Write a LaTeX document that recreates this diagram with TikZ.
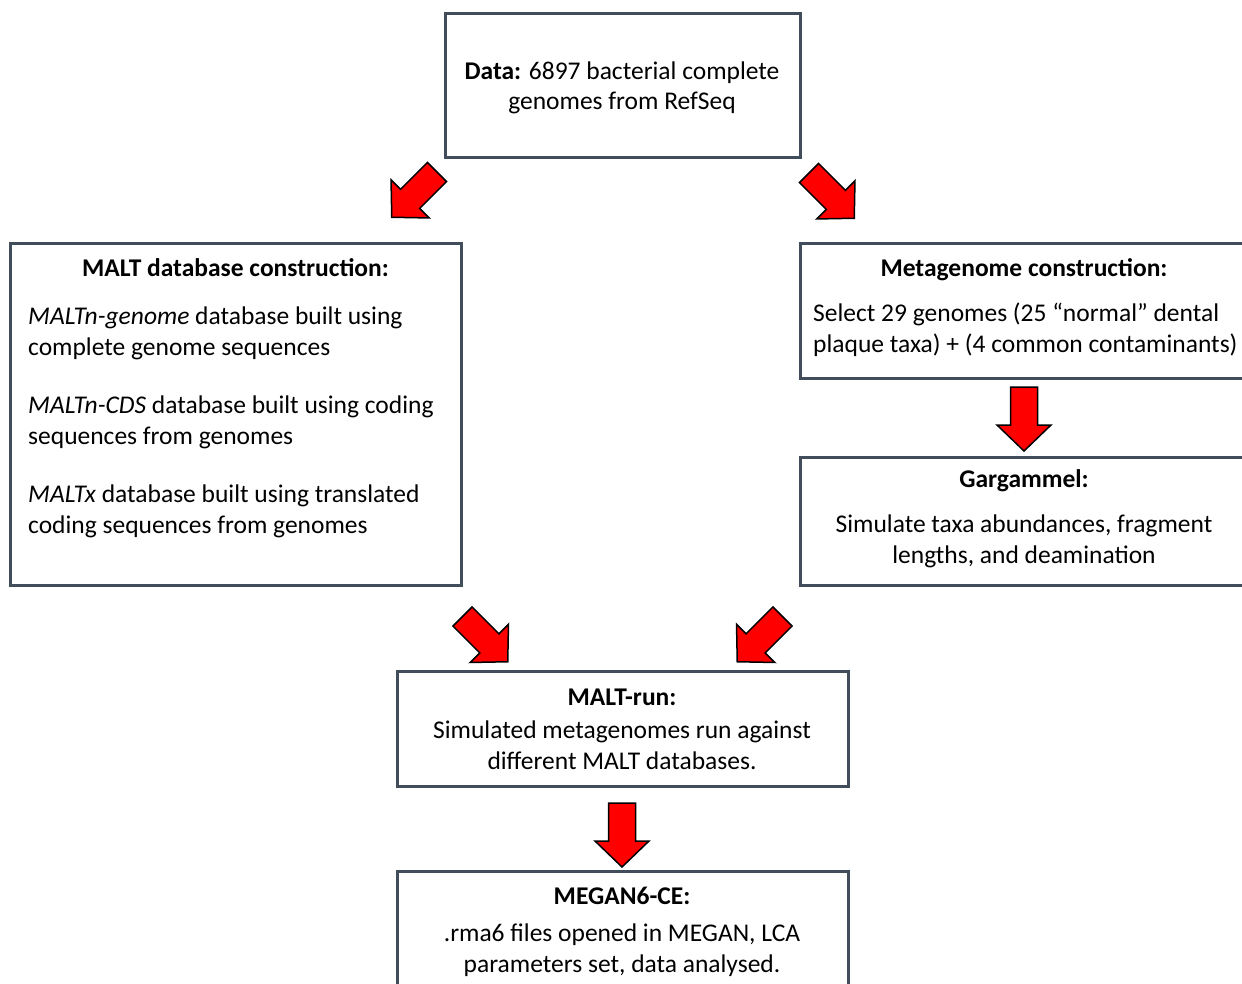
\documentclass[tikz,border=0pt]{standalone}
\usepackage{fontspec}
\setmainfont{Carlito}
\usetikzlibrary{positioning}
\definecolor{boxline}{RGB}{66,77,92}

\begin{document}
\begin{tikzpicture}[x=1pt,y=-1pt,
    redarrow/.pic={\draw[fill=red,draw=black,line width=1.5pt] (0,-13.5) -- (38,-13.5) -- (38,-27) -- (64,0) -- (38,27) -- (38,13.5) -- (0,13.5) -- cycle;}]
    \tikzstyle{box}=[draw=boxline,line width=3pt,fill=white,inner sep=0pt]
    \tikzstyle{txt}=[font=\fontsize{25.5}{31}\selectfont,inner sep=0pt,align=center]
    \tikzstyle{head}=[txt,font=\fontsize{25.5}{31}\selectfont\bfseries,text height=16,text depth=0]

    \useasboundingbox (0,0) rectangle (1242,983);
    \clip (0,0) rectangle (1242,983);
    \fill[white] (0,0) rectangle (1242,983);

    \node[box,minimum width=355,minimum height=144] (data) at (622.5,85) {};
    \node[box,minimum width=450.5,minimum height=341.5] (maltdb) at (235.75,414.25) {};
    \node[box,minimum width=448,minimum height=134.5] (metagen) at (1024,310.75) {};
    \node[box,minimum width=448,minimum height=128] (gargammel) at (1024,521) {};
    \node[box,minimum width=451,minimum height=115] (maltrun) at (622.5,728.5) {};
    \node[box,minimum width=451,minimum height=139] (megan) at (622.5,940.5) {};

    \node[txt,font=\fontsize{25.5}{29.5}\selectfont] (datatext) at (622,88) {\textbf{Data:} 6897 bacterial complete\\genomes from RefSeq};

    \node[head] (maltdbhead) at (235.5,268) {MALT database construction:};
    \node[txt,align=left,anchor=west] (maltdbtext) at (28,422) {\textit{MALTn-genome} database built using\\complete genome sequences\\[27pt]\textit{MALTn-CDS} database built using coding\\sequences from genomes\\[27pt]\textit{MALTx} database built using translated\\coding sequences from genomes};

    \node[head] (metagenhead) at (1024,268) {Metagenome construction:};
    \node[txt,align=left,anchor=west] (metagentext) at (813,330) {Select 29 genomes (25 “normal” dental\\plaque taxa) + (4 common contaminants)};

    \node[head] (gargammelhead) at (1024,479) {Gargammel:};
    \node[txt] (gargammeltext) at (1024,541) {Simulate taxa abundances, fragment\\lengths, and deamination};

    \node[head] (maltrunhead) at (622,697) {MALT-run:};
    \node[txt] (maltruntext) at (622,745) {Simulated metagenomes run against\\different MALT databases.};

    \node[head] (meganhead) at (622,896) {MEGAN6-CE:};
    \node[txt] (megantext) at (622,950) {.rma6 files opened in MEGAN, LCA\\parameters set, data analysed.};

    \pic[rotate=-135] at (437,172) {redarrow};
    \pic[rotate=-45] at (809,173) {redarrow};
    \pic[rotate=-90] at (1024,387) {redarrow};
    \pic[rotate=-45] at (462.5,616.5) {redarrow};
    \pic[rotate=-135] at (782.5,616.5) {redarrow};
    \pic[rotate=-90] at (622,803) {redarrow};
\end{tikzpicture}
\end{document}
